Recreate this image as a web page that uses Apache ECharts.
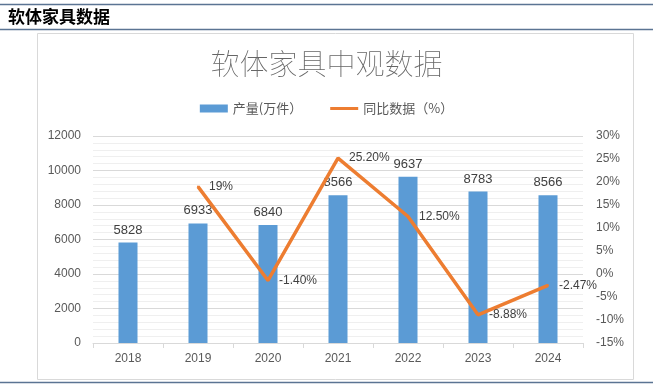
<!DOCTYPE html>
<html><head><meta charset="utf-8">
<script src="https://cdn.jsdelivr.net/npm/echarts@6/dist/echarts.min.js"></script>
<style>html,body{margin:0;padding:0;background:#fff}#c{width:653px;height:386px}</style>
</head><body><div id="c"></div>
<script>
const categories = ['2018','2019','2020','2021','2022','2023','2024'];
const production = [5828, 6933, 6840, 8566, 9637, 8783, 8566];
const yoy = [null, 19, -1.4, 25.2, 12.5, -8.88, -2.47];
const yoyLabels = ['', '19%', '-1.40%', '25.20%', '12.50%', '-8.88%', '-2.47%'];
const leftTicks = [0, 12000, 2000];
const rightTicks = [-15, 30, 5];

const chart = echarts.init(document.getElementById('c'), null, {renderer:'canvas'});
const cjk = '"Liberation Sans","Noto Sans CJK SC",sans-serif';
chart.setOption({
  animation:false,
  textStyle:{fontFamily:cjk},
  graphic:[
    {type:'line', shape:{x1:0,y1:4.5,x2:653,y2:4.5}, style:{stroke:'#5b7493',lineWidth:1.5}},
    {type:'line', shape:{x1:0,y1:29.5,x2:653,y2:29.5}, style:{stroke:'#5b7493',lineWidth:1.5}},
    {type:'line', shape:{x1:0,y1:382.5,x2:653,y2:382.5}, style:{stroke:'#5b7493',lineWidth:1.5}},
    {type:'text', left:8, top:8, style:{text:'软体家具数据', font:'bold 17px "Noto Sans CJK SC", sans-serif', fill:'#000'}},
    {type:'rect', shape:{x:37.5,y:33.5,width:596,height:346}, style:{fill:'none',stroke:'#d9d9d9',lineWidth:1}, z:-1}
  ],
  title:{text:'软体家具中观数据', left:'center', top:44, textStyle:{fontSize:29, fontWeight:'lighter', color:'#666666', fontFamily:'"Noto Sans CJK SC",sans-serif'}},
  legend:{top:97, left:'center', itemGap:28, itemWidth:28, itemHeight:8,
    textStyle:{fontSize:13, color:'#595959', fontFamily:'"Noto Sans CJK SC",sans-serif'},
    data:[{name:'产量(万件）', icon:'rect'},
          {name:'同比数据（%）', icon:'path://M0,0L0,0M0,2.5L28,2.5L28,5.5L0,5.5ZM28,8L28,8',
           itemStyle:{color:'#ed7d31', opacity:1}}]},
  grid:{left:93, right:70, top:136, bottom:43},
  xAxis:{type:'category', data:categories,
    axisLine:{lineStyle:{color:'#d9d9d9'}},
    axisTick:{show:true, length:5, lineStyle:{color:'#d9d9d9'}},
    axisLabel:{color:'#595959', fontSize:12, margin:10}},
  yAxis:[
    {type:'value', min:leftTicks[0], max:leftTicks[1], interval:leftTicks[2],
     axisLine:{show:false}, axisTick:{show:false},
     axisLabel:{color:'#595959', fontSize:12, margin:12, formatter:v=>String(v)},
     splitLine:{lineStyle:{color:'#d9d9d9'}},
     minorTick:{show:false, splitNumber:5},
     minorSplitLine:{show:true, lineStyle:{color:'#efefef'}}},
    {type:'value', min:rightTicks[0], max:rightTicks[1], interval:rightTicks[2],
     axisLine:{show:false}, axisTick:{show:false}, splitLine:{show:false},
     axisLabel:{color:'#595959', fontSize:12, margin:13, formatter:'{value}%'}}
  ],
  series:[
    {name:'产量(万件）', type:'bar', data:production, barWidth:19,
     itemStyle:{color:'#5b9bd5'},
     label:{show:true, position:'top', distance:6, color:'#404040', fontSize:13}},
    {name:'同比数据（%）', type:'line', yAxisIndex:1, data:yoy,
     symbol:'circle', symbolSize:2, showSymbol:true,
     lineStyle:{color:'#ed7d31', width:3.5}, itemStyle:{color:'#ed7d31'},
     connectNulls:false,
     label:{show:true, position:'right', distance:10, color:'#404040', fontSize:12,
       formatter:p=>yoyLabels[p.dataIndex]}}
  ]
});
</script></body></html>
